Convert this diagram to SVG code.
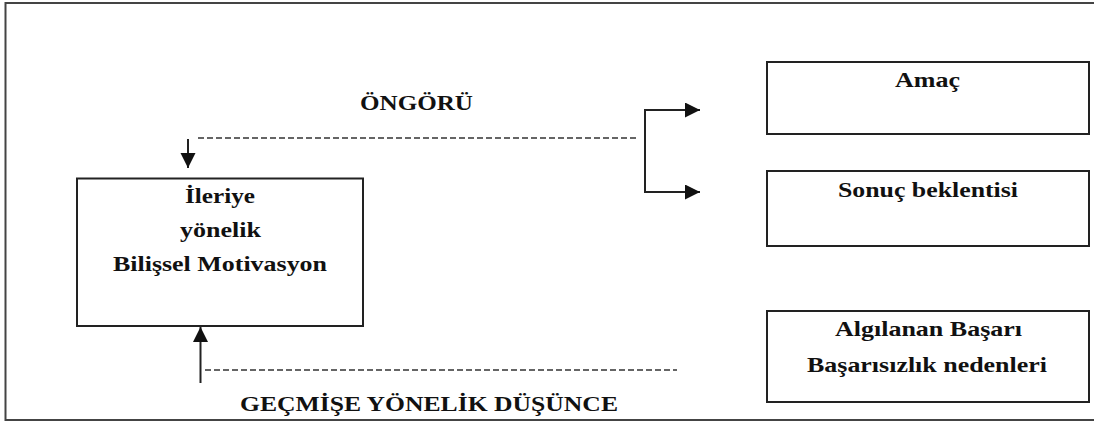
<svg xmlns="http://www.w3.org/2000/svg" width="1094" height="421" viewBox="0 0 1094 421">
  <style>
    .box { fill: #ffffff; stroke: #222222; stroke-width: 2; }
    .lbl { font-family: "Liberation Serif", "Times New Roman", serif; font-weight: bold; font-size: 22px; fill: #111111; text-anchor: middle; }
    .solid { fill: none; stroke: #222222; stroke-width: 2; }
    .dash { fill: none; stroke: #333333; stroke-width: 1.3; stroke-dasharray: 6 3; }
    .frame { fill: none; stroke: #444444; stroke-width: 2; }
  </style>
  <defs>
    <marker id="arr" markerUnits="userSpaceOnUse" markerWidth="16" markerHeight="16" refX="15" refY="7.5" orient="auto">
      <path d="M0,0 L15,7.5 L0,15 Z" fill="#111111"/>
    </marker>
  </defs>
  <rect x="0" y="0" width="1094" height="421" fill="#ffffff"/>
  <path class="frame" d="M1094,3 H5.5 V420 H1094"/>

  <g id="connectors">
    <path class="dash" d="M198,138 H637"/>
    <path class="solid" d="M188,139 V168" marker-end="url(#arr)"/>
    <path class="solid" d="M645,110 V192"/>
    <path class="solid" d="M644,110 H700" marker-end="url(#arr)"/>
    <path class="solid" d="M644,192 H700" marker-end="url(#arr)"/>
    <path class="solid" d="M200.5,383 V327" marker-end="url(#arr)"/>
    <path class="dash" d="M205,370 H677"/>
  </g>

  <g id="label-ongoru">
    <text class="lbl" x="416.5" y="110" textLength="113" lengthAdjust="spacingAndGlyphs">ÖNGÖRÜ</text>
  </g>
  <g id="label-gecmise">
    <text class="lbl" x="429" y="411" textLength="378" lengthAdjust="spacingAndGlyphs">GEÇMİŞE YÖNELİK DÜŞÜNCE</text>
  </g>

  <g id="node-motivasyon">
    <rect class="box" x="77" y="178.5" width="286" height="147.5"/>
    <text class="lbl" x="220" y="203" textLength="70" lengthAdjust="spacingAndGlyphs">İleriye</text>
    <text class="lbl" x="220.5" y="237" textLength="81" lengthAdjust="spacingAndGlyphs">yönelik</text>
    <text class="lbl" x="220" y="271" textLength="214" lengthAdjust="spacingAndGlyphs">Bilişsel Motivasyon</text>
  </g>

  <g id="node-amac">
    <rect class="box" x="767" y="62" width="322" height="72"/>
    <text class="lbl" x="927.5" y="87" textLength="65" lengthAdjust="spacingAndGlyphs">Amaç</text>
  </g>

  <g id="node-sonuc">
    <rect class="box" x="767" y="171" width="322" height="75"/>
    <text class="lbl" x="928" y="197" textLength="180" lengthAdjust="spacingAndGlyphs">Sonuç beklentisi</text>
  </g>

  <g id="node-algilanan">
    <rect class="box" x="767" y="311" width="322" height="91"/>
    <text class="lbl" x="928.5" y="336" textLength="187" lengthAdjust="spacingAndGlyphs">Algılanan Başarı</text>
    <text class="lbl" x="927" y="372" textLength="240" lengthAdjust="spacingAndGlyphs">Başarısızlık nedenleri</text>
  </g>
</svg>
